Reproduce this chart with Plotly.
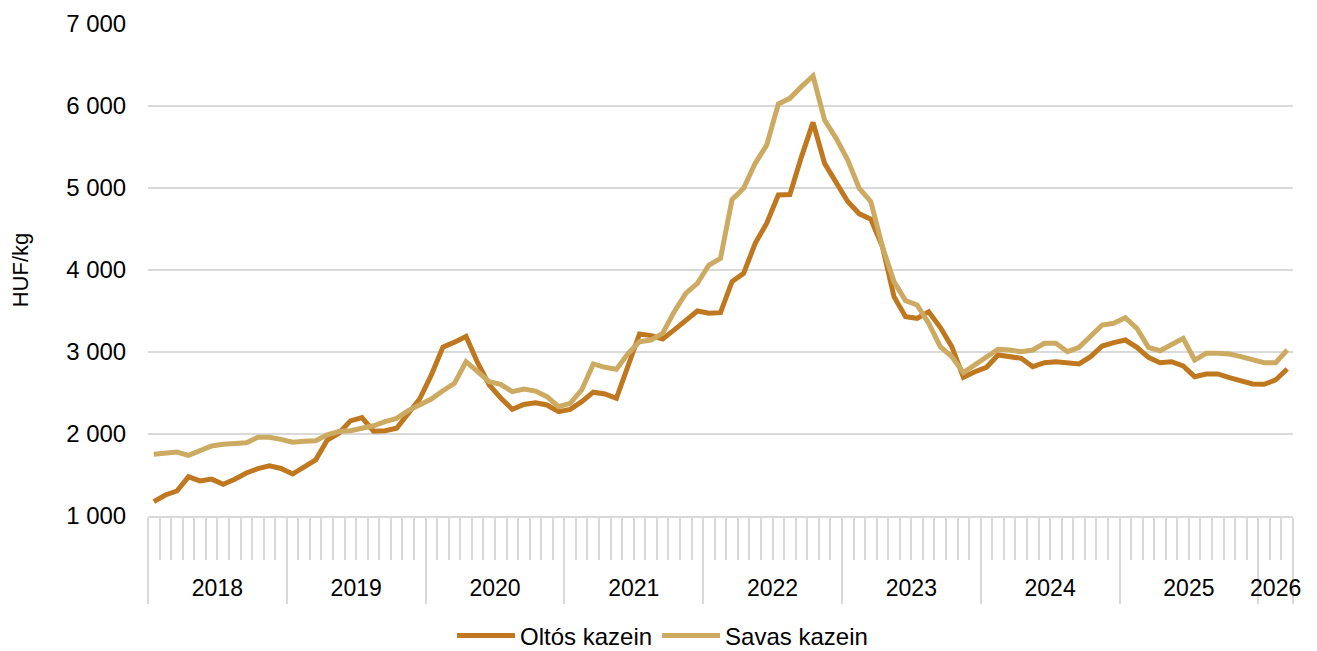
import plotly.graph_objects as go

# monthly prices, Jan 2018 - Mar 2026 (HUF/kg)
years = [2018, 2019, 2020, 2021, 2022, 2023, 2024, 2025, 2026]
months = [f"{y}-{m:02d}" for y in years for m in range(1, 13)][:99]

oltos = [1175, 1256, 1305, 1478, 1428, 1450, 1388, 1448, 1525, 1578, 1612, 1580,
         1512, 1590, 1685, 1927, 2010, 2160, 2200, 2035, 2040, 2070, 2240, 2430,
         2720, 3060, 3120, 3190, 2870, 2600, 2440, 2300, 2360, 2380, 2354, 2272,
         2300, 2394, 2510, 2488, 2435, 2830, 3220, 3200, 3160, 3270, 3380, 3500,
         3472, 3480, 3860, 3960, 4325, 4570, 4915, 4920, 5380, 5800, 5300, 5060,
         4835, 4685, 4620, 4285, 3675, 3430, 3411, 3492, 3301, 3065, 2691, 2760,
         2813, 2963, 2943, 2923, 2821, 2870, 2882, 2862, 2854, 2943, 3073, 3115,
         3146, 3057, 2935, 2870, 2882, 2829, 2699, 2732, 2732, 2687, 2650, 2610,
         2606, 2659, 2793]

savas = [1752, 1772, 1780, 1740, 1805, 1854, 1874, 1882, 1894, 1960, 1960, 1935,
         1899, 1911, 1918, 1991, 2030, 2040, 2070, 2100, 2150, 2190, 2285, 2354,
         2427, 2528, 2618, 2882, 2760, 2638, 2606, 2516, 2549, 2524, 2455, 2333,
         2374, 2537, 2854, 2813, 2789, 2980, 3126, 3146, 3228, 3492, 3715, 3837,
         4061, 4142, 4860, 4996, 5301, 5524, 6024, 6093, 6236, 6366, 5829, 5606,
         5341, 4996, 4833, 4285, 3858, 3626, 3573, 3350, 3065, 2943, 2748, 2841,
         2923, 3033, 3024, 3004, 3024, 3106, 3106, 3004, 3057, 3187, 3329, 3350,
         3419, 3289, 3057, 3016, 3085, 3167, 2902, 2984, 2984, 2976, 2943, 2902,
         2870, 2870, 3024]

n = len(months)
idx = list(range(n))
month_year = [int(m[:4]) for m in months]

# year groups: boundaries and label centres
bounds = [-0.5]
centres = []
for y in years:
    pos = [i for i in idx if month_year[i] == y]
    centres.append((pos[0] + pos[-1]) / 2)
    bounds.append(pos[-1] + 0.5)

grid = "#d9d9d9"
font = "Liberation Sans, Arial, sans-serif"

fig = go.Figure()
fig.add_trace(go.Scatter(x=idx, y=oltos, name="Oltós kazein", mode="lines",
                         line=dict(color="#BF7820", width=5), text=months))
fig.add_trace(go.Scatter(x=idx, y=savas, name="Savas kazein", mode="lines",
                         line=dict(color="#CDAA62", width=5), text=months))
# carrier for the year label axis
fig.add_trace(go.Scatter(x=centres, y=[None] * len(centres), xaxis="x2",
                         showlegend=False, hoverinfo="skip"))

fig.update_layout(
    width=1309, height=643,
    margin=dict(l=140, r=24, t=16, b=135),
    plot_bgcolor="white", paper_bgcolor="white",
    separators=", ",
    font=dict(family=font, size=22, color="black"),
    xaxis=dict(range=[-0.5, n - 0.5], tickmode="array", tickvals=bounds,
               ticktext=[""] * len(bounds), ticks="outside", ticklen=86,
               tickcolor=grid, tickwidth=2, showgrid=False, zeroline=False,
               showline=True, linecolor=grid, linewidth=2, automargin=False,
               minor=dict(tickmode="linear", tick0=-0.5, dtick=1,
                          ticks="outside", ticklen=42, tickcolor=grid,
                          tickwidth=2)),
    xaxis2=dict(range=[-0.5, n - 0.5], overlaying="x", side="bottom",
                anchor="y", tickmode="array", tickvals=centres,
                ticktext=[str(y) for y in years], ticks="outside", ticklen=51,
                tickcolor="rgba(0,0,0,0)", showgrid=False, zeroline=False,
                showline=False, automargin=False, tickfont=dict(size=23)),
    yaxis=dict(range=[1000, 7000], dtick=1000, tickformat=",.0f",
               showgrid=True, gridcolor=grid, gridwidth=2, zeroline=False,
               ticks="outside", ticklen=16, tickcolor="rgba(0,0,0,0)",
               automargin=False, tickfont=dict(size=24),
               title=dict(text="HUF/kg", standoff=33, font=dict(size=22))),
    legend=dict(orientation="h", x=0.5, xanchor="center", xref="container",
                y=1 - 628 / 643, yanchor="middle", yref="container",
                itemwidth=58, font=dict(size=24)),
)

fig.write_html("out.html")
